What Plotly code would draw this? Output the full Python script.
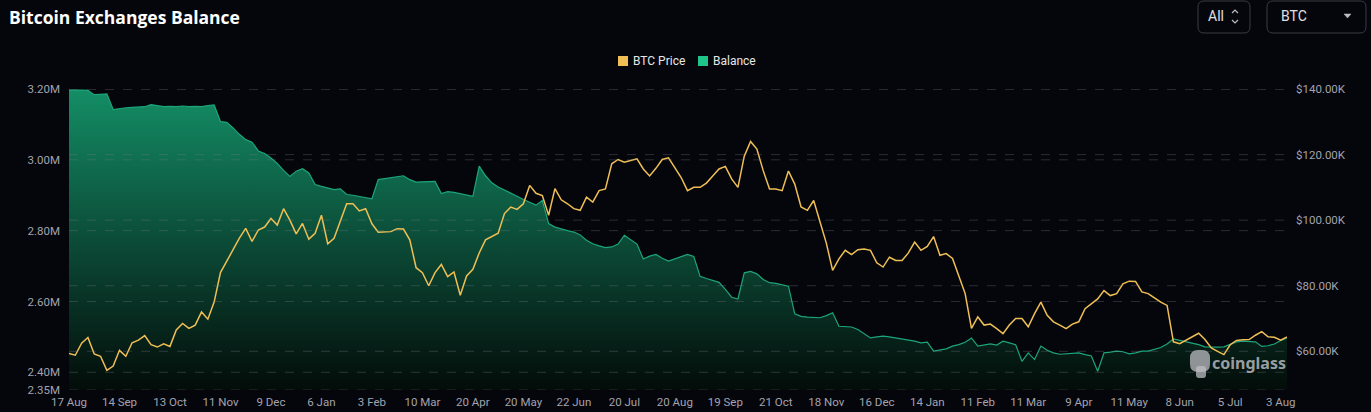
import numpy as np
import plotly.graph_objects as go

W, H = 1371, 412
PLOT_L, PLOT_R, PLOT_T, PLOT_B = 69, 1287, 89, 390

BG = "#05060c"
GRID = "rgba(125,125,140,0.32)"
TICK_COLOR = "#a3a3ad"
PRICE_COLOR = "#efbf55"
BAL_COLOR = "#1da57a"

date_labels = ["17 Aug", "14 Sep", "13 Oct", "11 Nov", "9 Dec", "6 Jan", "3 Feb",
               "10 Mar", "20 Apr", "20 May", "22 Jun", "20 Jul", "20 Aug", "19 Sep",
               "21 Oct", "18 Nov", "16 Dec", "14 Jan", "11 Feb", "11 Mar", "9 Apr",
               "11 May", "8 Jun", "5 Jul", "3 Aug"]

# BTC price, thousands of USD
price_k = [
    59.3, 58.8, 62.5, 64.2, 59.2, 58.5, 54.2, 55.5, 60.3, 58.5,
    62.6, 63.4, 64.8, 62.0, 61.3, 62.3, 61.5, 66.5, 68.5, 67.0,
    68.0, 72.0, 69.8, 75.0, 84.0, 87.5, 90.8, 94.5, 97.5, 93.5,
    97.0, 97.9, 100.5, 98.5, 103.5, 100.0, 95.8, 99.0, 94.2, 96.0,
    101.5, 92.8, 94.5, 99.9, 105.0, 105.0, 102.8, 103.5, 98.9, 96.3,
    96.5, 96.5, 97.4, 97.3, 94.0, 85.5, 84.0, 80.0, 84.0, 86.5,
    82.8, 84.2, 77.1, 83.0, 85.0, 90.0, 94.0, 95.0, 96.0, 102.0,
    104.0, 103.3, 105.0, 110.6, 108.2, 107.5, 101.5, 109.6, 106.2, 105.0,
    103.5, 103.0, 107.0, 105.5, 109.0, 109.5, 117.2, 118.5, 117.7, 118.2,
    118.7, 115.6, 113.5, 115.8, 118.5, 119.0, 116.0, 113.0, 109.0, 110.0,
    110.0, 111.3, 113.5, 115.6, 116.4, 112.6, 110.0, 119.5, 124.0, 121.7,
    115.1, 109.5, 109.5, 109.0, 115.0, 111.0, 104.0, 103.0, 106.0, 99.5,
    93.0, 84.7, 88.2, 90.8, 89.5, 91.0, 91.2, 90.8, 87.0, 85.7,
    88.7, 87.7, 87.7, 90.0, 93.3, 90.8, 92.0, 95.0, 89.3, 89.8,
    88.3, 83.0, 77.6, 67.0, 70.5, 68.0, 68.3, 66.9, 65.4, 68.0,
    70.0, 70.0, 67.5, 71.5, 75.0, 71.0, 69.0, 68.0, 66.9, 68.3,
    69.0, 73.0, 74.6, 76.0, 78.5, 77.0, 77.6, 80.6, 81.4, 81.3,
    78.1, 77.6, 76.3, 75.0, 74.0, 62.9, 62.3, 63.4, 64.5, 65.5,
    63.6, 61.0, 60.0, 59.0, 62.0, 63.3, 63.5, 63.6, 64.9, 66.0,
    64.4, 64.3, 63.4, 64.4,
]

# exchange balance, millions of BTC
balance_m = [
    3.197, 3.198, 3.197, 3.196, 3.184, 3.185, 3.186, 3.142, 3.145, 3.147,
    3.148, 3.150, 3.150, 3.156, 3.152, 3.150, 3.151, 3.150, 3.152, 3.150,
    3.151, 3.150, 3.153, 3.155, 3.108, 3.106, 3.090, 3.072, 3.057, 3.050,
    3.025, 3.018, 3.005, 2.990, 2.970, 2.953, 2.968, 2.975, 2.963, 2.930,
    2.925, 2.920, 2.916, 2.918, 2.902, 2.900, 2.897, 2.894, 2.890, 2.944,
    2.947, 2.949, 2.952, 2.955, 2.944, 2.937, 2.938, 2.939, 2.939, 2.905,
    2.910, 2.908, 2.905, 2.902, 2.897, 2.982, 2.955, 2.935, 2.923, 2.915,
    2.905, 2.897, 2.888, 2.880, 2.872, 2.885, 2.820, 2.810, 2.804, 2.800,
    2.796, 2.788, 2.773, 2.763, 2.757, 2.752, 2.754, 2.762, 2.787, 2.775,
    2.762, 2.720, 2.728, 2.733, 2.722, 2.714, 2.720, 2.728, 2.733, 2.727,
    2.671, 2.665, 2.660, 2.654, 2.634, 2.612, 2.607, 2.681, 2.685, 2.678,
    2.662, 2.653, 2.651, 2.648, 2.643, 2.565, 2.558, 2.556, 2.555, 2.554,
    2.560, 2.568, 2.530, 2.530, 2.528, 2.521, 2.510, 2.497, 2.500, 2.502,
    2.500, 2.497, 2.495, 2.492, 2.488, 2.483, 2.485, 2.460, 2.462, 2.466,
    2.474, 2.478, 2.485, 2.497, 2.474, 2.476, 2.480, 2.477, 2.488, 2.483,
    2.478, 2.431, 2.455, 2.436, 2.474, 2.462, 2.455, 2.451, 2.453, 2.455,
    2.455, 2.450, 2.446, 2.403, 2.455, 2.457, 2.460, 2.458, 2.452, 2.455,
    2.460, 2.460, 2.465, 2.470, 2.480, 2.494, 2.490, 2.486, 2.484, 2.478,
    2.472, 2.471, 2.471, 2.472, 2.478, 2.486, 2.488, 2.487, 2.486, 2.473,
    2.475, 2.480, 2.490, 2.497,
]

balance_ticks = [2.35, 2.40, 2.60, 2.80, 3.00, 3.20]
price_ticks = [60, 80, 100, 120, 140]

x = np.arange(len(price_k))
label_step = 8


def px_x(px):
    return (px - PLOT_L) / (PLOT_R - PLOT_L)


def px_y(py):
    return (PLOT_B - py) / (PLOT_B - PLOT_T)


def rounded_rect(x0, y0, x1, y1, r):
    pts = [("M", x0 + r, y0), ("L", x1 - r, y0), ("Q", x1, y0), ("", x1, y0 + r),
           ("L", x1, y1 - r), ("Q", x1, y1), ("", x1 - r, y1),
           ("L", x0 + r, y1), ("Q", x0, y1), ("", x0, y1 - r),
           ("L", x0, y0 + r), ("Q", x0, y0), ("", x0 + r, y0)]
    return " ".join(f"{c} {px_x(a):.5f},{px_y(b):.5f}" for c, a, b in pts) + " Z"


def polyline(points):
    return " ".join(("M" if i == 0 else "L") + f" {px_x(a):.5f},{px_y(b):.5f}"
                    for i, (a, b) in enumerate(points))


fig = go.Figure()

fig.add_trace(go.Scatter(
    x=x, y=balance_m, name="Balance", mode="lines",
    line=dict(color=BAL_COLOR, width=1.2),
    fill="tozeroy",
    fillgradient=dict(type="vertical", start=2.35, stop=3.20,
                      colorscale=[[0, "rgba(3,12,9,0.95)"],
                                  [0.5, "rgba(12,80,58,0.95)"],
                                  [1, "rgba(20,146,104,0.97)"]]),
    showlegend=False, yaxis="y",
))
fig.add_trace(go.Scatter(
    x=x, y=price_k, name="BTC Price", mode="lines",
    line=dict(color=PRICE_COLOR, width=1.5),
    showlegend=False, yaxis="y2",
))

tick_font = dict(family="Roboto, sans-serif", size=11.5, color=TICK_COLOR)

fig.update_layout(
    width=W, height=H,
    paper_bgcolor=BG, plot_bgcolor=BG,
    margin=dict(l=PLOT_L, r=W - PLOT_R, t=PLOT_T, b=H - PLOT_B, autoexpand=False),
    showlegend=False,
    xaxis=dict(range=[0, len(x) - 1], tickmode="array",
               tickvals=x[::label_step], ticktext=date_labels,
               showgrid=False, zeroline=False, showline=False, ticks="",
               tickfont=tick_font, ticklabelstandoff=3),
    yaxis=dict(range=[2.35, 3.20], tickmode="array", tickvals=balance_ticks,
               ticktext=[f"{v:.2f}M" for v in balance_ticks],
               showgrid=False, zeroline=False, showline=False, ticks="",
               tickfont=tick_font, ticklabelstandoff=8),
    yaxis2=dict(range=[48.2, 140], overlaying="y", side="right", tickmode="array",
                tickvals=price_ticks,
                ticktext=[f"${v:.2f}K" for v in price_ticks],
                showgrid=False, zeroline=False, showline=False, ticks="",
                tickfont=tick_font, ticklabelstandoff=8),
    hovermode=False,
)

# dashed gridlines for both value axes, drawn over the area fill
shapes = []
for v in balance_ticks:
    shapes.append(dict(type="line", xref="paper", x0=0, x1=1, yref="y", y0=v, y1=v,
                       line=dict(color=GRID, width=1, dash="dash"), layer="above"))
for v in price_ticks:
    shapes.append(dict(type="line", xref="paper", x0=0, x1=1, yref="y2", y0=v, y1=v,
                       line=dict(color=GRID, width=1, dash="dash"), layer="above"))

# custom legend swatches
shapes += [
    dict(type="rect", xref="paper", yref="paper", x0=px_x(618), x1=px_x(628),
         y0=px_y(66), y1=px_y(56), fillcolor=PRICE_COLOR, line=dict(width=0)),
    dict(type="rect", xref="paper", yref="paper", x0=px_x(698), x1=px_x(708),
         y0=px_y(66), y1=px_y(56), fillcolor="#1fc48a", line=dict(width=0)),
]

# selector boxes in the header
shapes += [
    dict(type="path", xref="paper", yref="paper", path=rounded_rect(1198, 1, 1250, 33, 6),
         line=dict(color="#3a3b44", width=1), fillcolor="rgba(0,0,0,0)"),
    dict(type="path", xref="paper", yref="paper", path=rounded_rect(1267, 1, 1366, 33, 6),
         line=dict(color="#3a3b44", width=1), fillcolor="rgba(0,0,0,0)"),
    dict(type="path", xref="paper", yref="paper",
         path=polyline([(1232, 13), (1235, 10), (1238, 13)]),
         line=dict(color="#bdbdc5", width=1.2)),
    dict(type="path", xref="paper", yref="paper",
         path=polyline([(1232, 20), (1235, 23), (1238, 20)]),
         line=dict(color="#bdbdc5", width=1.2)),
    dict(type="path", xref="paper", yref="paper",
         path=polyline([(1344, 14), (1351, 14), (1347.5, 18)]) + " Z",
         line=dict(color="#bdbdc5", width=0.5), fillcolor="#bdbdc5"),
    # watermark logo blob
    dict(type="path", xref="paper", yref="paper", path=rounded_rect(1190, 350, 1210, 372, 8),
         line=dict(width=0), fillcolor="rgba(190,190,195,0.75)"),
    dict(type="path", xref="paper", yref="paper", path=rounded_rect(1196, 366, 1206, 378, 3),
         line=dict(width=0), fillcolor="rgba(190,190,195,0.75)"),
]
fig.update_layout(shapes=shapes)

legend_font = dict(family="Roboto, sans-serif", size=12, color="#e6e6e6")
annotations = [
    dict(text="<b>Bitcoin Exchanges Balance</b>", xref="paper", yref="paper",
         x=px_x(7), y=px_y(17), xanchor="left", yanchor="middle", showarrow=False,
         font=dict(family="Open Sans, sans-serif", size=17.5, color="#ffffff")),
    dict(text="BTC Price", xref="paper", yref="paper", x=px_x(631), y=px_y(61),
         xanchor="left", yanchor="middle", showarrow=False, font=legend_font),
    dict(text="Balance", xref="paper", yref="paper", x=px_x(711), y=px_y(61),
         xanchor="left", yanchor="middle", showarrow=False, font=legend_font),
    dict(text="All", xref="paper", yref="paper", x=px_x(1206), y=px_y(16),
         xanchor="left", yanchor="middle", showarrow=False,
         font=dict(family="Roboto, sans-serif", size=14, color="#e0e0e4")),
    dict(text="BTC", xref="paper", yref="paper", x=px_x(1279), y=px_y(16),
         xanchor="left", yanchor="middle", showarrow=False,
         font=dict(family="Roboto, sans-serif", size=14, color="#e0e0e4")),
    dict(text="<b>coinglass</b>", xref="paper", yref="paper", x=px_x(1288), y=px_y(363),
         xanchor="right", yanchor="middle", showarrow=False,
         font=dict(family="Noto Sans, sans-serif", size=16, color="rgba(195,195,200,0.8)")),
]
fig.update_layout(annotations=annotations)

fig.write_html(
    "out.html",
    config={"displayModeBar": False},
    post_script="document.body.style.margin='0';"
                "document.body.style.overflow='hidden';"
                f"document.body.style.background='{BG}';",
)
